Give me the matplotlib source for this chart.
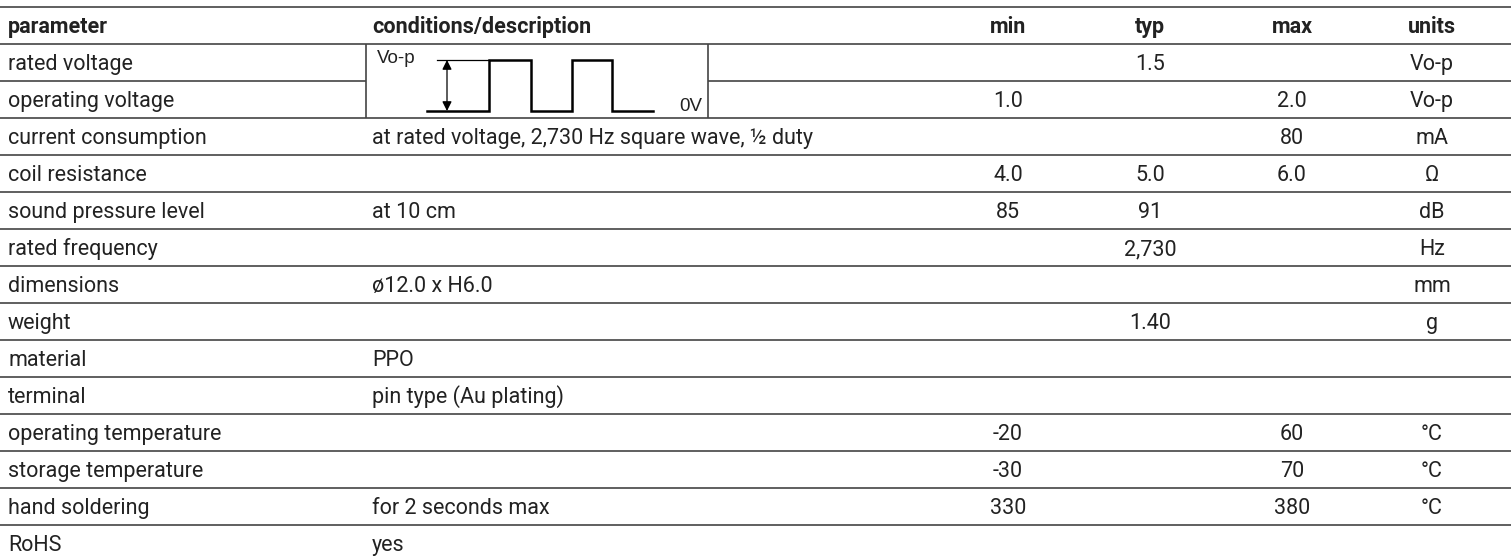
import matplotlib
matplotlib.use('Agg')

import matplotlib.pyplot as plt

# --- table content ---
HEADERS = ['parameter', 'conditions/description', 'min', 'typ', 'max', 'units']
PARAMETERS = ['rated voltage', 'operating voltage', 'current consumption', 'coil resistance',
              'sound pressure level', 'rated frequency', 'dimensions', 'weight', 'material',
              'terminal', 'operating temperature', 'storage temperature', 'hand soldering', 'RoHS']
CONDITIONS = ['', '', 'at rated voltage, 2,730 Hz square wave, ½ duty', '', 'at 10 cm', '',
              'ø12.0 x H6.0', '', 'PPO', 'pin type (Au plating)', '', '', 'for 2 seconds max', 'yes']
MIN_VALS = ['', '1.0', '', '4.0', '85', '', '', '', '', '', '-20', '-30', '330', '']
TYP_VALS = ['1.5', '', '', '5.0', '91', '2,730', '', '1.40', '', '', '', '', '', '']
MAX_VALS = ['', '2.0', '80', '6.0', '', '', '', '', '', '', '60', '70', '380', '']
UNITS = ['Vo-p', 'Vo-p', 'mA', 'Ω', 'dB', 'Hz', 'mm', 'g', '', '', '°C', '°C', '°C', '']

# --- layout (pixels) ---
W, H = 1511, 559
TOP = 7
HEADER_H = 37
ROW_H = 37
BASE = 26                         # baseline offset from the top of a row
X_PARAM = 8
X_COND = 372
X_COLS = [1008, 1150, 1292, 1432]   # min, typ, max, units (centered)
LINE_COLOR = '#444444'
TEXT_COLOR = '#222222'
FONT = ['Roboto', 'DejaVu Sans']
FS = 15.5
SMALL_FONT = ['Liberation Sans', 'DejaVu Sans']

fig = plt.figure(figsize=(W / 100, H / 100), dpi=100)
ax = fig.add_axes([0, 0, 1, 1])
ax.set_xlim(0, W)
ax.set_ylim(H, 0)
ax.axis('off')


def cell(x, y, s, ha='left', bold=False):
    ax.text(x, y, s, ha=ha, va='baseline', fontsize=FS, family=FONT,
            fontweight='bold' if bold else 'normal', color=TEXT_COLOR)


# header
hy = TOP + BASE
cell(X_PARAM, hy, HEADERS[0], bold=True)
cell(X_COND, hy, HEADERS[1], bold=True)
for x, h in zip(X_COLS, HEADERS[2:]):
    cell(x, hy, h, ha='center', bold=True)

ax.hlines([TOP, TOP + HEADER_H], 0, W, color=LINE_COLOR, lw=1.2)

# rows
y0 = TOP + HEADER_H
for i, p in enumerate(PARAMETERS):
    top = y0 + i * ROW_H
    by = top + BASE
    cell(X_PARAM, by, p)
    cell(X_COND, by, CONDITIONS[i])
    for x, v in zip(X_COLS, [MIN_VALS[i], TYP_VALS[i], MAX_VALS[i], UNITS[i]]):
        cell(x, by, v, ha='center')
    # bottom border of row (not for the last one); rows 0/1 share the waveform box
    if i == 0:
        ax.hlines(top + ROW_H, 0, 366, color=LINE_COLOR, lw=1.2)
        ax.hlines(top + ROW_H, 708, W, color=LINE_COLOR, lw=1.2)
    elif i < len(PARAMETERS) - 1:
        ax.hlines(top + ROW_H, 0, W, color=LINE_COLOR, lw=1.2)

# waveform box over the first two rows
box_top = y0
box_bot = y0 + 2 * ROW_H
ax.vlines([366, 708], box_top, box_bot, color=LINE_COLOR, lw=1.2)

# square wave sketch
hi, lo = 60, 111
wx = [427, 489, 489, 531, 531, 572, 572, 612, 612, 653]
wy = [lo, lo, hi, hi, lo, lo, hi, hi, lo, lo]
ax.plot(wx, wy, color='black', lw=1.8, solid_joinstyle='miter')
ax.plot([437, 489], [hi, hi], color='black', lw=0.9)
ax.annotate('', xy=(447, hi), xytext=(447, lo),
            arrowprops=dict(arrowstyle='<|-|>', color='black', lw=0.9,
                            shrinkA=0, shrinkB=0, mutation_scale=14))
ax.text(377, 63, 'Vo-p', ha='left', va='baseline', fontsize=13.5,
        family=SMALL_FONT, color=TEXT_COLOR)
ax.text(702, 111, '0V', ha='right', va='baseline', fontsize=13.5,
        family=SMALL_FONT, color=TEXT_COLOR)

fig.savefig('out.png', dpi=100)
plt.close(fig)
